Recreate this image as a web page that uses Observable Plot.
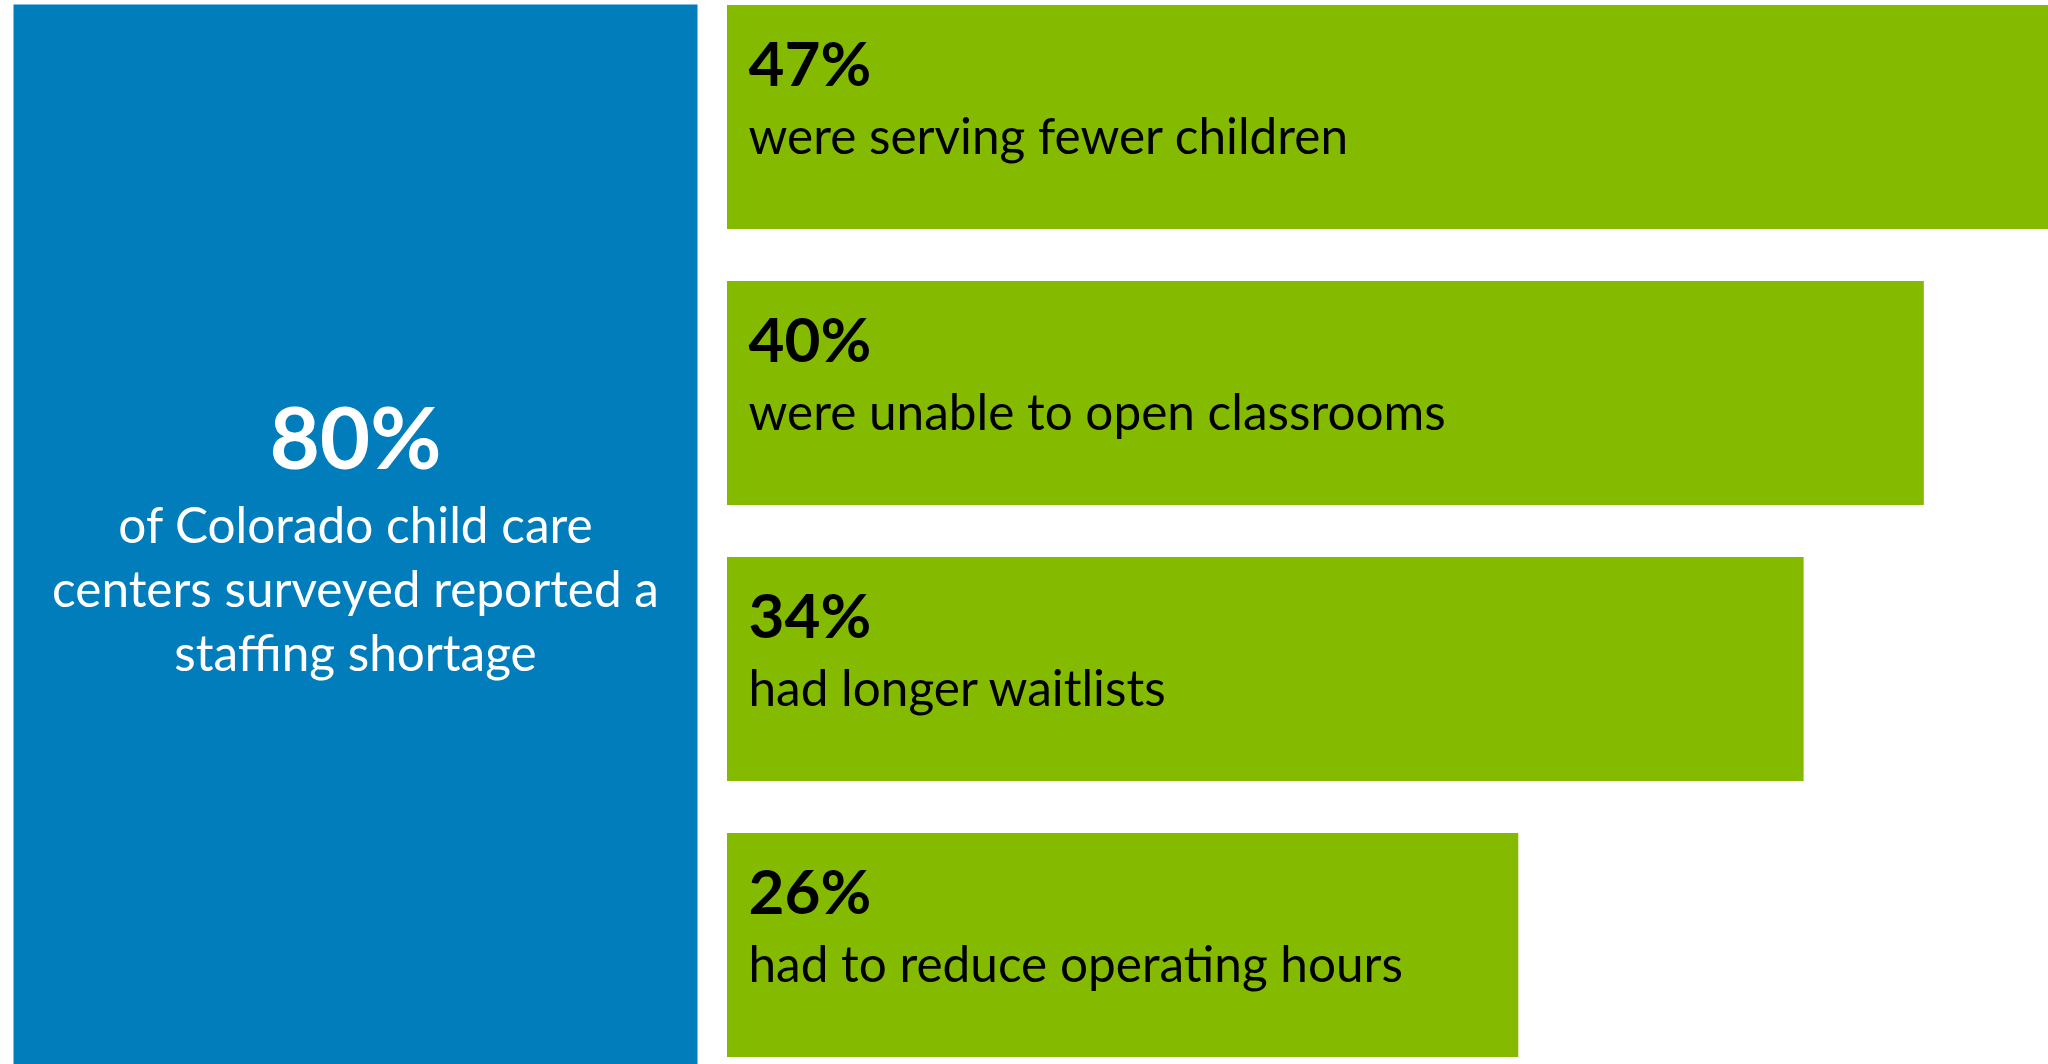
<!DOCTYPE html>
<html>
<head>
<meta charset="utf-8">
<script src="https://cdn.jsdelivr.net/npm/d3@7"></script>
<script src="https://cdn.jsdelivr.net/npm/@observablehq/plot@0.6"></script>
<style>
  html, body { margin: 0; padding: 0; background: #ffffff; }
  #chart { display: flex; flex-direction: row; width: 2048px; height: 1064px; overflow: hidden; }
  #chart svg { display: block; }
</style>
</head>
<body>
<div id="chart"></div>
<script>
// ---- Data ----
const headlineValue = "80%";
const headlineText = ["of Colorado child care", "centers surveyed reported a", "staffing shortage"];

const categories = [
  "were serving fewer children",
  "were unable to open classrooms",
  "had longer waitlists",
  "had to reduce operating hours"
];
const percentLabels = ["47%", "40%", "34%", "26%"];
const percentValues = [47, 40, 34, 26];
// bar extents as drawn in the reference, as a share (%) of the widest bar
const barLength = [100, 90.6, 81.5, 59.9];

// ---- Styles ----
const BLUE = "#027DBB";
const GREEN = "#84BB00";
const FONT = "Lato, 'Open Sans', sans-serif";
const BODY_SIZE = 49.5;

const rows = categories.map((c, i) => ({
  category: c,
  label: percentLabels[i],
  value: percentValues[i],
  len: barLength[i]
}));

// Left panel: headline statistic
const left = Plot.plot({
  width: 710,
  height: 1064,
  marginLeft: 13,
  marginRight: 13,
  marginTop: 4,
  marginBottom: 0,
  style: { fontFamily: FONT, background: "transparent" },
  marks: [
    Plot.frame({ fill: BLUE, stroke: null }),
    Plot.text([headlineValue], {
      text: d => d,
      frameAnchor: "top",
      lineAnchor: "bottom",
      dy: 464,
      fill: "white",
      fontSize: 87,
      fontWeight: "bold"
    }),
    Plot.text([headlineText.join("\n")], {
      text: d => d,
      frameAnchor: "top",
      lineAnchor: "bottom",
      lineHeight: 64 / BODY_SIZE,
      dy: 666,
      fill: "white",
      fontSize: BODY_SIZE
    })
  ]
});

// Right panel: green bars with labels
const right = Plot.plot({
  width: 1338,
  height: 1064,
  marginLeft: 17,
  marginRight: 0,
  marginTop: 5,
  marginBottom: 7,
  style: { fontFamily: FONT, background: "transparent" },
  x: { domain: [0, 100], axis: null },
  y: { domain: categories, axis: null, paddingInner: 0.19, paddingOuter: 0, align: 0 },
  marks: [
    Plot.barX(rows, { x: "len", y: "category", fill: GREEN }),
    Plot.text(rows, {
      y: "category",
      text: "label",
      frameAnchor: "left",
      textAnchor: "start",
      lineAnchor: "bottom",
      dx: 21,
      dy: -32,
      fill: "black",
      fontSize: 62,
      fontWeight: "bold"
    }),
    Plot.text(rows, {
      y: "category",
      text: "category",
      frameAnchor: "left",
      textAnchor: "start",
      lineAnchor: "bottom",
      dx: 21,
      dy: 36,
      fill: "black",
      fontSize: BODY_SIZE
    })
  ]
});

const chart = document.getElementById("chart");
chart.appendChild(left);
chart.appendChild(right);
</script>
</body>
</html>
